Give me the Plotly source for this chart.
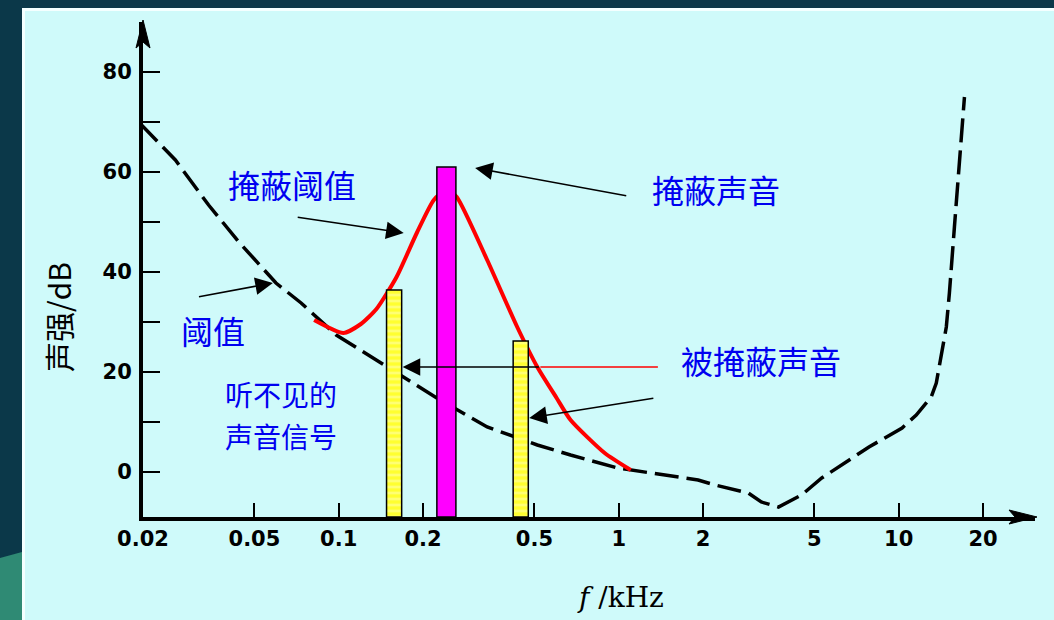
import numpy as np
import plotly.graph_objects as go

# ---------------- data ----------------
# threshold in quiet (dashed black curve)
thr_freq = [0.0196, 0.0261, 0.0343, 0.0440, 0.0597, 0.0734, 0.098, 0.1364, 0.224, 0.339,
            0.512, 0.673, 0.992, 1.921, 2.21, 2.904, 3.23, 3.72, 4.50, 5.31, 7.83, 10.28,
            11.55, 13.06, 13.62, 14.79, 15.17, 15.81, 16.48, 17.17]
thr_db = [69.6, 62.4, 53.4, 46.0, 37.8, 33.8, 27.4, 22.4, 14.8, 9.0,
          5.4, 3.4, 0.8, -1.6, -2.6, -4.2, -6.0, -7.0, -4.6, -1.2, 5.0, 8.8,
          11.4, 15.0, 17.8, 29.0, 35.8, 49.0, 62.4, 75.0]

# masking threshold (red curve)
mask_freq = [0.0817, 0.1039, 0.120, 0.1364, 0.1609, 0.190, 0.2186, 0.2433, 0.264, 0.339, 0.434,
             0.512, 0.600, 0.673, 0.891, 1.104]
mask_db = [30.4, 27.8, 29.6, 32.6, 39.0, 47.8, 54.4, 56.5, 55.0, 42.4, 29.0,
           21.0, 14.8, 10.4, 3.8, 0.4]

# tones (bars)
bar_freq = [0.1577, 0.2424, 0.4467]
bar_db = [36.4, 61.0, 26.2]
bar_kind = ["masked", "masker", "masked"]

x_tick_vals = [0.02, 0.05, 0.1, 0.2, 0.5, 1, 2, 5, 10, 20]
x_tick_text = ["0.02", "0.05", "0.1", "0.2", "0.5", "1", "2", "5", "10", "20"]
y_tick_vals = [0, 10, 20, 30, 40, 50, 60, 70, 80]
y_tick_text = ["0", "", "20", "", "40", "", "60", "", "80"]

# ---------------- layout constants ----------------
W, H = 1054, 620
L, R, T, B = 143, 19, 22, 103
PW, PH = W - L - R, H - T - B
Y_MIN, Y_MAX = -9, 90
X_RANGE = [np.log10(0.02), 1.4867]

def px(xp):
    return (xp - L) / PW

def py(yp):
    return (H - B - yp) / PH

lg = np.log10

fig = go.Figure()

# threshold in quiet
fig.add_trace(go.Scatter(x=thr_freq, y=thr_db, mode="lines",
                         line=dict(color="black", width=3.5, dash="24px,8px"),
                         hoverinfo="skip", showlegend=False))
# masking threshold
fig.add_trace(go.Scatter(x=mask_freq, y=mask_db, mode="lines", line_shape="spline",
                         line=dict(color="#ff0000", width=4, smoothing=0.6),
                         hoverinfo="skip", showlegend=False))

# bars
bar_half = {"masked": 0.027, "masker": 0.034}
for f, top, kind in zip(bar_freq, bar_db, bar_kind):
    hw = bar_half[kind]
    xs = [f * 10 ** -hw, f * 10 ** -hw, f * 10 ** hw, f * 10 ** hw, f * 10 ** -hw]
    ys = [Y_MIN, top, top, Y_MIN, Y_MIN]
    if kind == "masker":
        fig.add_trace(go.Scatter(x=xs, y=ys, mode="lines", fill="toself",
                                 fillcolor="#ff00ff",
                                 line=dict(color="black", width=1.5),
                                 hoverinfo="skip", showlegend=False))
    else:
        fig.add_trace(go.Scatter(x=xs, y=ys, mode="lines", fill="toself",
                                 fillcolor="#ffff30",
                                 fillpattern=dict(shape="-", bgcolor="#ffff30",
                                                  fgcolor="#ffffb8", size=6, solidity=0.45),
                                 line=dict(color="black", width=1.5),
                                 hoverinfo="skip", showlegend=False))

# red thin pointer segment for "被掩蔽声音"
fig.add_trace(go.Scatter(x=[0.525, 1.38], y=[21, 21], mode="lines",
                         line=dict(color="#ff0000", width=1.5),
                         hoverinfo="skip", showlegend=False))

BLUE = "#0000f0"
CJK = "Noto Sans CJK SC"
annots = []

def label(text, f, db, size=32):
    annots.append(dict(x=lg(f), y=db, xref="x", yref="y", text=text, showarrow=False,
                       font=dict(family=CJK, size=size, color=BLUE),
                       xanchor="center", yanchor="middle"))

def arrow(f0, d0, f1, d1, color="black"):
    annots.append(dict(x=lg(f1), y=d1, ax=lg(f0), ay=d0, xref="x", yref="y",
                       axref="x", ayref="y", text="", showarrow=True,
                       arrowhead=2, arrowsize=2.2, arrowwidth=1.6, arrowcolor=color))

label("掩蔽阈值", 0.0682, 57.6)
label("掩蔽声音", 2.23, 56.6)
label("阈值", 0.0355, 28.4)
label("被掩蔽声音", 3.23, 22.4)
label("听不见的", 0.0622, 15.6, size=28)
label("声音信号", 0.0622, 7.2, size=28)

arrow(0.0705, 51.0, 0.1706, 47.8)
arrow(0.0313, 35.0, 0.0582, 37.8)
arrow(1.077, 55.2, 0.307, 60.8)
arrow(0.525, 21.0, 0.1692, 21.0)
arrow(1.346, 14.8, 0.479, 10.8)

# axis titles
annots.append(dict(x=px(58), y=py(317), xref="paper", yref="paper", text="声强/dB",
                   textangle=-90, showarrow=False, xanchor="center", yanchor="middle",
                   font=dict(family=CJK, size=30, color="black")))
annots.append(dict(x=px(620), y=py(597), xref="paper", yref="paper",
                   text="<i>f</i> /kHz", showarrow=False, xanchor="center", yanchor="middle",
                   font=dict(family="DejaVu Serif", size=28, color="black")))

shapes = [
    # page background panels
    dict(type="rect", xref="paper", yref="paper", x0=px(22), x1=px(W), y0=py(H), y1=py(8),
         fillcolor="#f4ffff", line=dict(width=0), layer="below"),
    dict(type="rect", xref="paper", yref="paper", x0=px(25), x1=px(W), y0=py(H), y1=py(11),
         fillcolor="#cffafa", line=dict(width=0), layer="below"),
    dict(type="path", xref="paper", yref="paper",
         path=f"M{px(0)},{py(558)} L{px(22)},{py(552)} L{px(22)},{py(H)} L{px(0)},{py(H)} Z",
         fillcolor="#2f8a74", line=dict(width=0), layer="below"),
    # axis arrowheads
    dict(type="path", xref="paper", yref="paper", xsizemode="pixel", ysizemode="pixel",
         xanchor=0, yanchor=1, path="M0,2 L-7,-26 L0,-20 L7,-26 Z",
         fillcolor="black", line=dict(color="black", width=1)),
    dict(type="path", xref="paper", yref="paper", xsizemode="pixel", ysizemode="pixel",
         xanchor=1, yanchor=0, path="M2,0 L-26,7 L-20,0 L-26,-7 Z",
         fillcolor="black", line=dict(color="black", width=1)),
]

tickfont = dict(family="DejaVu Sans", size=21, color="black", weight="bold")

fig.update_layout(
    width=W, height=H,
    margin=dict(l=L, r=R, t=T, b=B, autoexpand=False),
    paper_bgcolor="#0b3849",
    plot_bgcolor="rgba(0,0,0,0)",
    showlegend=False,
    annotations=annots,
    shapes=shapes,
    xaxis=dict(type="log", range=X_RANGE, showgrid=False, zeroline=False,
               showline=True, linecolor="black", linewidth=4,
               tickvals=x_tick_vals, ticktext=x_tick_text, ticks="inside",
               ticklen=14, tickwidth=2, tickcolor="black", tickfont=tickfont,
               ticklabelstandoff=0),
    yaxis=dict(range=[Y_MIN, Y_MAX], showgrid=False, zeroline=False,
               showline=True, linecolor="black", linewidth=4,
               tickvals=y_tick_vals, ticktext=y_tick_text, ticks="inside",
               ticklen=17, tickwidth=2, tickcolor="black", tickfont=tickfont,
               ticklabelstandoff=3),
)

fig.write_html("out.html", post_script="document.body.style.margin='0';",
               config={"displayModeBar": False})
